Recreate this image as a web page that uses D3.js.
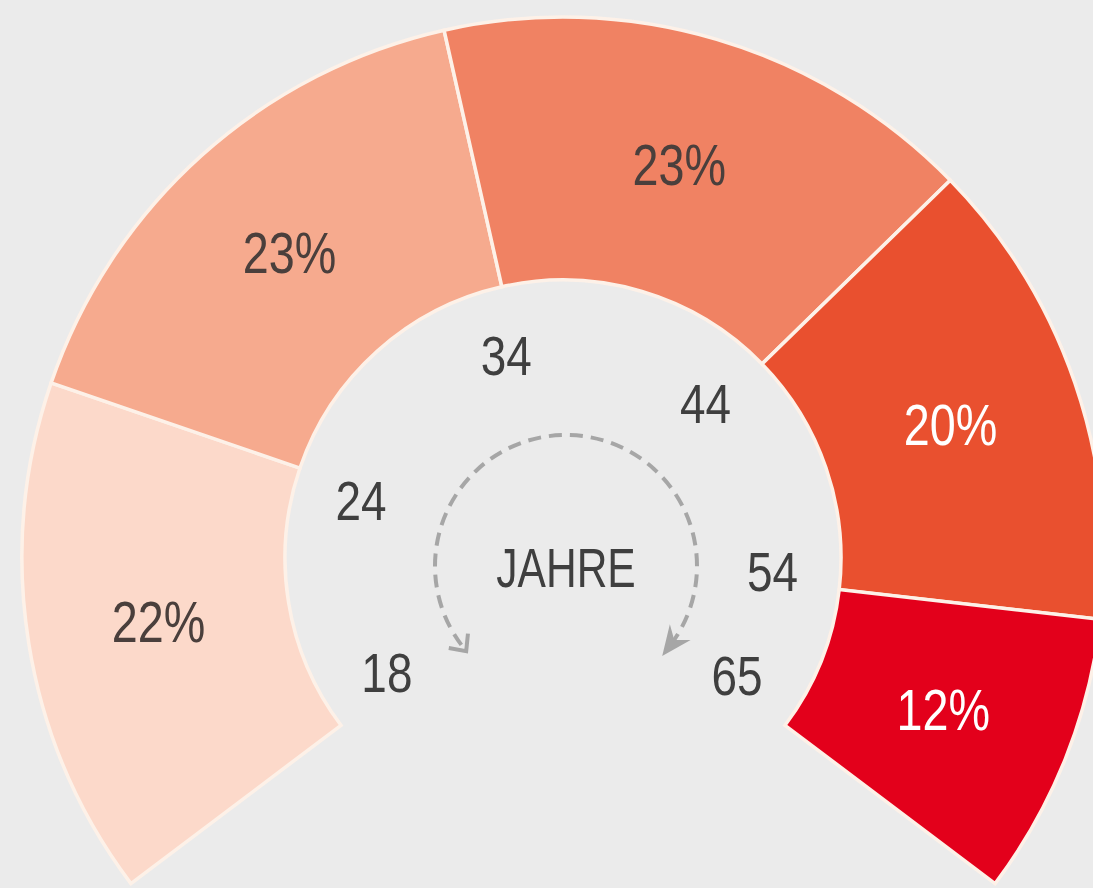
<!DOCTYPE html>
<html>
<head>
<meta charset="utf-8">
<script src="https://cdn.jsdelivr.net/npm/d3@7"></script>
<style>
    body { margin: 0; background: #ebebeb; }
    svg { display: block; }
    .lbl { font-family: "Liberation Sans", Arial, sans-serif; }
</style>
</head>
<body>
<div id="chart"></div>
<script>
// data
var ageGroups = ["18-24", "24-34", "34-44", "44-54", "54-65"];
var shares = [22, 23, 23, 20, 12];
var ageTicks = ["18", "24", "34", "44", "54", "65"];
var centerLabel = "JAHRE";

// styles
var sliceColors = ["#fcd9ca", "#f6aa8e", "#f08263", "#e9502f", "#e3001b"];
var textColors = ["#4a3f3c", "#4a3f3c", "#4a3f3c", "#ffffff", "#ffffff"];

var w = 1093,
    h = 888,
    cx = 563,
    cy = 558,
    innerR = 278,
    outerR = 541,
    tickR = 210,
    arrowR = 131,
    span = 127 * Math.PI / 180,
    squeeze = 0.82; // condensed look

var svg = d3.select('#chart').append('svg')
    .attr("width", w)
    .attr("height", h);

svg.append("rect")
    .attr("width", w)
    .attr("height", h)
    .attr("fill", "#ebebeb");

var g = svg.append("g")
    .attr("transform", "translate(" + cx + "," + cy + ")");

// pie layout over a 254 degree fan
var pie = d3.pie()
    .sort(null)
    .value(function(d) { return d.share; })
    .startAngle(-span)
    .endAngle(span);

var data = ageGroups.map(function(a, i) {
    return { group: a, share: shares[i], color: sliceColors[i], text: textColors[i] };
});

var arcs = pie(data);

var arc = d3.arc()
    .innerRadius(innerR)
    .outerRadius(outerR);

g.selectAll('path.slice')
    .data(arcs)
    .enter().append("path")
    .attr("class", "slice")
    .attr("d", arc)
    .attr("fill", function(d) { return d.data.color; })
    .attr("stroke", "#fdf1e8")
    .attr("stroke-width", 3.5)
    .attr("stroke-linejoin", "miter");

function label(sel, x, y) {
    return sel.attr("transform", function(d, i) {
        return "translate(" + x(d, i) + "," + y(d, i) + ") scale(" + squeeze + ",1)";
    });
}

// percent labels at slice centroids
label(g.selectAll('text.pct')
    .data(arcs)
    .enter().append("text")
    .attr("class", "lbl pct")
    .text(function(d) { return d.data.share + "%"; }),
    function(d) { return arc.centroid(d)[0]; },
    function(d) { return arc.centroid(d)[1]; })
    .attr("dy", ".35em")
    .attr("font-size", "57px")
    .attr("fill", function(d) { return d.data.text; })
    .attr("text-anchor", "middle");

// age ticks next to slice boundaries
var bounds = arcs.map(function(d) { return d.startAngle; });
bounds.push(arcs[arcs.length - 1].endAngle);

function tickAngle(i) {
    var shift = (i === 0 ? 4 : -3) * Math.PI / 180;
    return bounds[i] + shift;
}

label(g.selectAll('text.age')
    .data(ageTicks)
    .enter().append("text")
    .attr("class", "lbl age")
    .text(function(d) { return d; }),
    function(d, i) { return tickR * Math.sin(tickAngle(i)); },
    function(d, i) { return -tickR * Math.cos(tickAngle(i)); })
    .attr("dy", ".35em")
    .attr("font-size", "56px")
    .attr("fill", "#3f3f3f")
    .attr("text-anchor", "middle");

g.append("text")
    .attr("class", "lbl")
    .text(centerLabel)
    .attr("transform", "translate(3,9) scale(0.76,1)")
    .attr("dy", ".35em")
    .attr("font-size", "56px")
    .attr("fill", "#3f3f3f")
    .attr("text-anchor", "middle");

// dashed arrow around the centre
var a0 = bounds[0] - Math.PI / 2,
    a1 = bounds[bounds.length - 1] - Math.PI / 2;
var p = d3.path();
p.arc(3, 8, arrowR, a0, a1);

g.append("path")
    .attr("d", p.toString())
    .attr("fill", "none")
    .attr("stroke", "#a6a6a6")
    .attr("stroke-width", 4)
    .attr("stroke-dasharray", "13,8");

function pointAt(a) {
    return [3 + arrowR * Math.sin(a), 8 - arrowR * Math.cos(a)];
}

// filled head at the end (clockwise)
var e = pointAt(bounds[bounds.length - 1]),
    te = bounds[bounds.length - 1];
var dirE = [Math.cos(te), Math.sin(te)];
var nE = [-dirE[1], dirE[0]];
var tip = [e[0] + dirE[0] * 14, e[1] + dirE[1] * 14];
g.append("path")
    .attr("d", "M" + tip + "L" + [e[0] - dirE[0] * 16 + nE[0] * 13, e[1] - dirE[1] * 16 + nE[1] * 13] +
        "L" + [e[0] - dirE[0] * 6, e[1] - dirE[1] * 6] +
        "L" + [e[0] - dirE[0] * 16 - nE[0] * 13, e[1] - dirE[1] * 16 - nE[1] * 13] + "Z")
    .attr("fill", "#a6a6a6");

// open chevron at the start (counter-clockwise)
var s = pointAt(bounds[0]),
    ts = bounds[0];
var dirS = [-Math.cos(ts), -Math.sin(ts)];
var nS = [-dirS[1], dirS[0]];
var tipS = [s[0] + dirS[0] * 8, s[1] + dirS[1] * 8];
g.append("path")
    .attr("d", "M" + [tipS[0] - dirS[0] * 13 + nS[0] * 12, tipS[1] - dirS[1] * 13 + nS[1] * 12] +
        "L" + tipS +
        "L" + [tipS[0] - dirS[0] * 13 - nS[0] * 12, tipS[1] - dirS[1] * 13 - nS[1] * 12])
    .attr("fill", "none")
    .attr("stroke", "#a6a6a6")
    .attr("stroke-width", 4);
</script>
</body>
</html>
